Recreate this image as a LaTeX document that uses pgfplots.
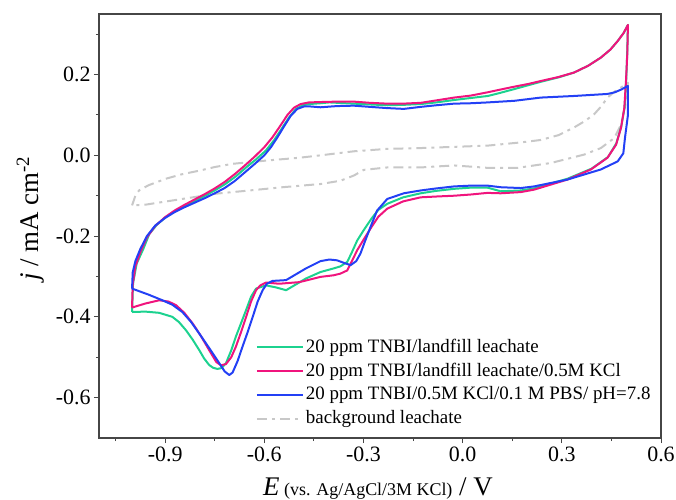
\documentclass[border=0pt]{standalone}
\usepackage{pgfplots}
\pgfplotsset{compat=1.18}
\usepackage{fontspec}
\setmainfont{Liberation Serif}

\definecolor{cvgreen}{RGB}{28,210,143}
\definecolor{cvpink}{RGB}{240,20,125}
\definecolor{cvblue}{RGB}{35,64,245}
\definecolor{cvgray}{RGB}{200,200,200}
\definecolor{axgray}{RGB}{70,70,70}

\begin{document}
\begin{tikzpicture}
\begin{axis}[
  scale only axis, width=562bp, height=424bp,
  xmin=-1.1, xmax=0.6, ymin=-0.7, ymax=0.35,
  xtick={-0.9,-0.6,-0.3,0,0.3,0.6},
  ytick={-0.6,-0.4,-0.2,0,0.2},
  minor xtick={-1.05,-0.75,-0.45,-0.15,0.15,0.45},
  minor ytick={-0.5,-0.3,-0.1,0.1,0.3},
  tick align=outside, tick pos=left,
  major tick length=5bp, minor tick length=3bp,
  axis line style={axgray, line width=1.2bp},
  every tick/.style={axgray, line width=1bp},
  /pgf/number format/assume math mode=true,
  ticklabel style={font=\fontsize{22}{24}\selectfont},
  xticklabel style={/pgf/number format/.cd, fixed, fixed zerofill, precision=1},
  yticklabel style={/pgf/number format/.cd, fixed, fixed zerofill, precision=1},
  xlabel={\textit{E}\,{\fontsize{18}{20}\selectfont(vs. Ag/AgCl/3M KCl)} / V},
  ylabel={\textit{j} / mA cm\textsuperscript{-2}},
  xlabel style={font=\fontsize{27}{30}\selectfont,
    at={(axis description cs:0.5,0)}, anchor=base, yshift=-57bp, xshift=-2bp},
  ylabel style={font=\fontsize{27}{30}\selectfont,
    at={(axis description cs:-0.1085,0.518)}, anchor=base},
  legend cell align=left,
  legend style={at={(axis description cs:0.2735,0.2406)}, anchor=north west,
    draw=none, fill=none, font=\fontsize{19}{21}\selectfont, row sep=5.9bp,
    nodes={inner xsep=2bp, inner ysep=0bp, text height=14bp, text depth=4bp}},
  legend image code/.code={\draw[#1] (0bp,0bp) -- (46bp,0bp);},
  every axis plot/.append style={line width=2bp, line join=round},
]
% background leachate (drawn first, legend entry added at the end)
\addplot[cvgray, dash pattern=on 10bp off 5bp on 3bp off 5bp, forget plot] coordinates {
(-1.0,-0.124) (-0.99,-0.1) (-0.979,-0.087) (-0.95,-0.074) (-0.898,-0.058) (-0.85,-0.047)
(-0.797,-0.038) (-0.75,-0.029) (-0.696,-0.021) (-0.595,-0.013) (-0.494,-0.006) (-0.43,0.0)
(-0.329,0.01) (-0.228,0.016) (-0.127,0.018) (-0.026,0.021) (0.075,0.024) (0.176,0.032)
(0.236,0.038) (0.29,0.05) (0.337,0.069) (0.37,0.085) (0.398,0.102) (0.42,0.122)
(0.438,0.143) (0.46,0.158) (0.479,0.168) (0.5,0.18)
(0.494,0.133) (0.479,0.076) (0.459,0.043) (0.418,0.018) (0.368,0.002) (0.267,-0.019)
(0.166,-0.031) (0.075,-0.031) (-0.026,-0.025) (-0.127,-0.03) (-0.228,-0.03) (-0.299,-0.036)
(-0.329,-0.05) (-0.37,-0.063) (-0.43,-0.071) (-0.545,-0.079) (-0.645,-0.087) (-0.746,-0.095)
(-0.848,-0.108) (-0.958,-0.122) (-1.0,-0.124)};

% 20 ppm TNBI / landfill leachate
\addplot[cvgreen] coordinates {
(-1.0,-0.388) (-0.997,-0.317) (-0.986,-0.268) (-0.966,-0.232) (-0.948,-0.195) (-0.925,-0.172)
(-0.898,-0.153) (-0.867,-0.137) (-0.837,-0.124) (-0.807,-0.112) (-0.777,-0.099) (-0.746,-0.085)
(-0.716,-0.070) (-0.686,-0.052) (-0.655,-0.030) (-0.625,-0.010) (-0.595,0.012) (-0.570,0.038)
(-0.545,0.069) (-0.525,0.094) (-0.504,0.115) (-0.484,0.124) (-0.464,0.127) (-0.43,0.129)
(-0.403,0.131) (-0.329,0.128) (-0.28,0.126) (-0.228,0.124) (-0.18,0.125) (-0.127,0.127)
(-0.08,0.131) (-0.026,0.137) (0.025,0.142) (0.076,0.147) (0.115,0.155) (0.156,0.164)
(0.2,0.174) (0.236,0.182) (0.29,0.193) (0.337,0.205) (0.38,0.222) (0.418,0.242)
(0.447,0.262) (0.469,0.283) (0.487,0.303) (0.5,0.323)
(0.498,0.26) (0.495,0.19) (0.49,0.12) (0.48,0.072) (0.465,0.03) (0.44,-0.004) (0.39,-0.033)
(0.317,-0.058) (0.216,-0.082) (0.176,-0.087) (0.115,-0.089) (0.075,-0.080) (0.025,-0.080)
(-0.026,-0.083) (-0.08,-0.088) (-0.127,-0.094) (-0.18,-0.104) (-0.228,-0.12) (-0.255,-0.135)
(-0.276,-0.157) (-0.299,-0.185) (-0.319,-0.211) (-0.335,-0.24) (-0.349,-0.264) (-0.370,-0.275)
(-0.390,-0.280) (-0.43,-0.289) (-0.474,-0.305) (-0.505,-0.32) (-0.534,-0.334) (-0.565,-0.327)
(-0.595,-0.322) (-0.625,-0.330) (-0.640,-0.350) (-0.655,-0.383) (-0.670,-0.415) (-0.686,-0.449)
(-0.70,-0.483) (-0.716,-0.515) (-0.73,-0.527) (-0.742,-0.529) (-0.755,-0.526) (-0.767,-0.519)
(-0.782,-0.503) (-0.797,-0.482) (-0.817,-0.456) (-0.837,-0.433) (-0.858,-0.413) (-0.878,-0.400)
(-0.918,-0.390) (-0.96,-0.387) (-1.0,-0.388)};
\addlegendentry{20 ppm TNBI/landfill leachate}

% 20 ppm TNBI / landfill leachate / 0.5M KCl
\addplot[cvpink] coordinates {
(-1.0,-0.377) (-0.998,-0.32) (-0.99,-0.275) (-0.975,-0.24) (-0.955,-0.203) (-0.93,-0.175)
(-0.9,-0.153) (-0.87,-0.136) (-0.84,-0.122) (-0.81,-0.109) (-0.78,-0.096) (-0.75,-0.082)
(-0.72,-0.066) (-0.69,-0.047) (-0.66,-0.026) (-0.63,-0.004) (-0.6,0.02) (-0.575,0.045)
(-0.55,0.075) (-0.53,0.1) (-0.51,0.118) (-0.49,0.127) (-0.465,0.131) (-0.43,0.132)
(-0.38,0.133) (-0.329,0.133) (-0.28,0.13) (-0.228,0.128) (-0.18,0.128) (-0.127,0.130)
(-0.08,0.136) (-0.026,0.143) (0.025,0.148) (0.075,0.156) (0.115,0.163) (0.156,0.170)
(0.2,0.177) (0.236,0.184) (0.29,0.194) (0.337,0.205) (0.38,0.222) (0.418,0.242)
(0.447,0.262) (0.469,0.283) (0.487,0.303) (0.5,0.323)
(0.498,0.25) (0.494,0.183) (0.489,0.117) (0.479,0.068) (0.464,0.026) (0.438,-0.006)
(0.388,-0.035) (0.317,-0.060) (0.216,-0.085) (0.176,-0.091) (0.115,-0.094) (0.075,-0.093)
(0.025,-0.097) (-0.026,-0.100) (-0.08,-0.102) (-0.127,-0.104) (-0.18,-0.114) (-0.228,-0.132)
(-0.255,-0.152) (-0.276,-0.178) (-0.299,-0.208) (-0.319,-0.235) (-0.335,-0.262) (-0.349,-0.285)
(-0.37,-0.293) (-0.39,-0.297) (-0.43,-0.301) (-0.494,-0.314) (-0.555,-0.318) (-0.595,-0.315)
(-0.612,-0.322) (-0.625,-0.334) (-0.640,-0.362) (-0.655,-0.400) (-0.670,-0.437) (-0.686,-0.474)
(-0.70,-0.500) (-0.716,-0.517) (-0.731,-0.520) (-0.745,-0.512) (-0.767,-0.482) (-0.792,-0.447)
(-0.817,-0.416) (-0.842,-0.39) (-0.867,-0.371) (-0.89,-0.362) (-0.918,-0.359) (-0.96,-0.367)
(-1.0,-0.377)};
\addlegendentry{20 ppm TNBI/landfill leachate/0.5M KCl}

% 20 ppm TNBI / 0.5M KCl / 0.1 M PBS / pH=7.8
\addplot[cvblue] coordinates {
(-1.0,-0.33) (-0.998,-0.29) (-0.99,-0.262) (-0.975,-0.232) (-0.955,-0.2) (-0.93,-0.174)
(-0.9,-0.155) (-0.87,-0.14) (-0.84,-0.128) (-0.81,-0.117) (-0.78,-0.106) (-0.75,-0.094)
(-0.72,-0.081) (-0.69,-0.064) (-0.66,-0.043) (-0.63,-0.022) (-0.6,0.0) (-0.58,0.02)
(-0.56,0.045) (-0.54,0.072) (-0.52,0.098) (-0.50,0.115) (-0.48,0.121) (-0.46,0.121)
(-0.43,0.119) (-0.38,0.122) (-0.329,0.123) (-0.28,0.12) (-0.228,0.117) (-0.178,0.115)
(-0.127,0.12) (-0.08,0.124) (-0.026,0.128) (0.025,0.129) (0.075,0.131) (0.115,0.133)
(0.156,0.135) (0.236,0.143) (0.337,0.147) (0.438,0.152) (0.46,0.156) (0.48,0.163) (0.5,0.172)
(0.5,0.10) (0.491,0.043) (0.486,0.005) (0.469,-0.015) (0.418,-0.035) (0.317,-0.06)
(0.216,-0.077) (0.176,-0.081) (0.115,-0.079) (0.075,-0.075) (0.025,-0.075) (-0.026,-0.077)
(-0.08,-0.082) (-0.127,-0.087) (-0.178,-0.094) (-0.228,-0.108) (-0.259,-0.137) (-0.279,-0.178)
(-0.295,-0.212) (-0.309,-0.243) (-0.322,-0.262) (-0.339,-0.272) (-0.36,-0.266) (-0.38,-0.26)
(-0.403,-0.258) (-0.43,-0.262) (-0.474,-0.280) (-0.505,-0.295) (-0.534,-0.309) (-0.575,-0.311)
(-0.592,-0.318) (-0.605,-0.334) (-0.62,-0.362) (-0.635,-0.400) (-0.650,-0.437) (-0.666,-0.474)
(-0.681,-0.51) (-0.696,-0.538) (-0.706,-0.544) (-0.72,-0.535) (-0.736,-0.515) (-0.766,-0.478)
(-0.797,-0.441) (-0.822,-0.412) (-0.848,-0.388) (-0.878,-0.370) (-0.908,-0.359) (-0.95,-0.345)
(-1.0,-0.33)};
\addlegendentry{20 ppm TNBI/0.5M KCl/0.1 M PBS/ pH=7.8}

\addlegendimage{cvgray, line width=2bp, dash pattern=on 10bp off 5bp on 3bp off 5bp}
\addlegendentry{background leachate}
\end{axis}
\pgfresetboundingbox
\path[use as bounding box] (current axis.south west) ++(-99bp,-62bp) rectangle ++(676bp,500bp);
\end{tikzpicture}
\end{document}
